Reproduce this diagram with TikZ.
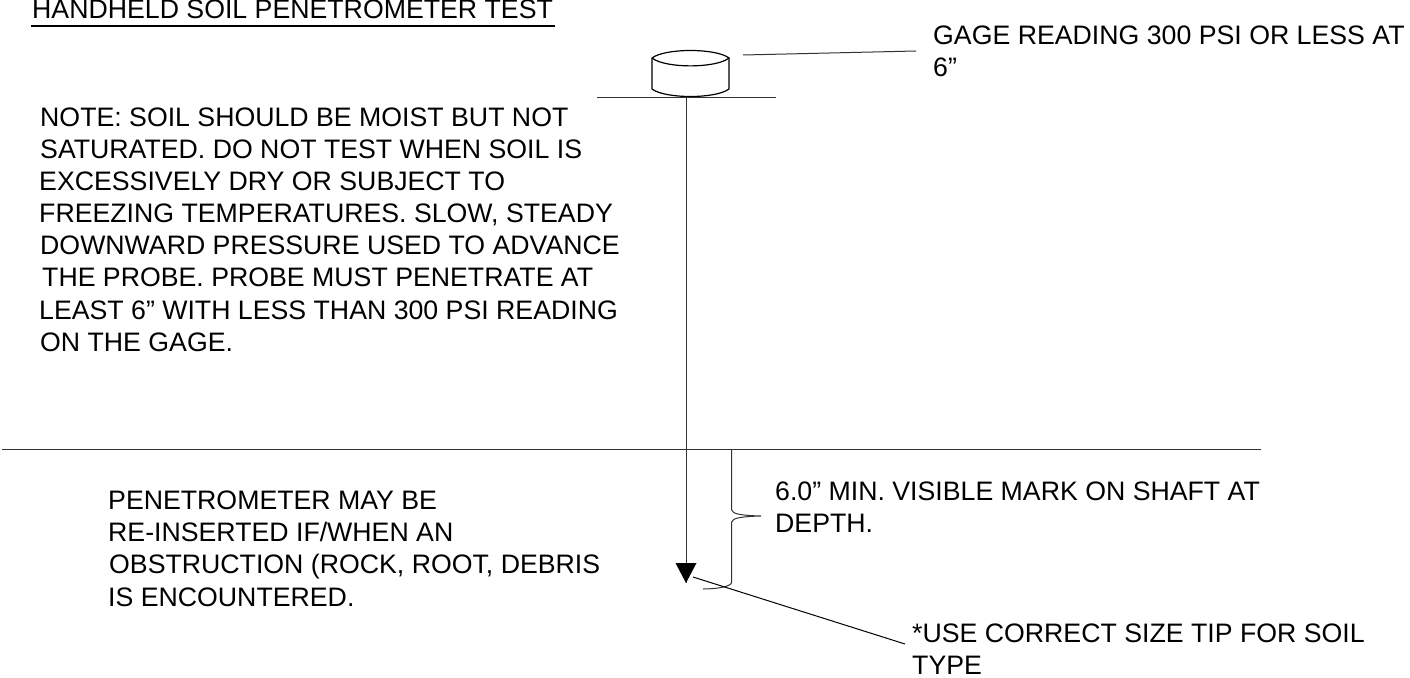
\documentclass[tikz,border=0pt]{standalone}
\usepackage{fontspec}
\setmainfont{Liberation Sans}
\begin{document}
\begin{tikzpicture}[x=1pt,y=-1pt,
  txt/.style={anchor=base west,inner sep=0pt,font=\fontsize{26.7pt}{32pt}\selectfont},
  ln/.style={line width=1pt,draw=black!80}]
\useasboundingbox (0,0) rectangle (1410,677);
\node[txt] (title) at (32,18.5) {HANDHELD SOIL PENETROMETER TEST};
\coordinate (ua) at (30.5,26); \coordinate (ub) at (555,26);
\draw[line width=1.3pt] (ua) -- (ub);
\node[txt] (g1) at (933,45) {GAGE READING 300 PSI OR LESS AT};
\node[txt] (g2) at (933,76.5) {6”};
\node[txt] (n1) at (40,126.5) {NOTE: SOIL SHOULD BE MOIST BUT NOT};
\node[txt] (n2) at (40,158.5) {SATURATED. DO NOT TEST WHEN SOIL IS};
\node[txt] (n3) at (39,190.5) {EXCESSIVELY DRY OR SUBJECT TO};
\node[txt] (n4) at (39,222.5) {FREEZING TEMPERATURES. SLOW, STEADY};
\node[txt] (n5) at (40,254.5) {DOWNWARD PRESSURE USED TO ADVANCE};
\node[txt] (n6) at (42,286.5) {THE PROBE. PROBE MUST PENETRATE AT};
\node[txt] (n7) at (39,319) {LEAST 6” WITH LESS THAN 300 PSI READING};
\node[txt] (n8) at (40,351.5) {ON THE GAGE.};
\node[txt] (p1) at (108,509) {PENETROMETER MAY BE};
\node[txt] (p2) at (108,541.5) {RE-INSERTED IF/WHEN AN};
\node[txt] (p3) at (109,573.5) {OBSTRUCTION (ROCK, ROOT, DEBRIS};
\node[txt] (p4) at (108,606) {IS ENCOUNTERED.};
\node[txt] (d1) at (775,500) {6.0” MIN. VISIBLE MARK ON SHAFT AT};
\node[txt] (d2) at (775,532.5) {DEPTH.};
\node[txt] (u1) at (912,642) {*USE CORRECT SIZE TIP FOR SOIL};
\node[txt] (u2) at (912,674) {TYPE};
% gage
\coordinate (top) at (686,97);
\coordinate (tip) at (686,583);
\draw[line width=1.2pt] (652,58) .. controls (665,48) and (716,48) .. (729,58)
  .. controls (716,68.5) and (665,68.5) .. (652,58);
\draw[line width=1.2pt] (652,58) -- (652,89) .. controls (665,99) and (716,99) .. (729,89) -- (729,58);
\coordinate (gl) at (597,97); \coordinate (gr) at (776,97);
\draw[ln] (gl) -- (gr);
\coordinate (la) at (743,55); \coordinate (lb) at (916,51);
\draw[ln] (la) -- (lb);
% shaft
\draw[ln] (top) -- (tip);
\coordinate (a1) at (675.5,563); \coordinate (a2) at (696.5,563);
\fill (a1) -- (a2) -- (tip) -- cycle;
% ground
\coordinate (ga) at (2,449); \coordinate (gb) at (1261,449);
\draw[ln] (ga) -- (gb);
% brace
\coordinate (bt) at (731.7,449); \coordinate (bm) at (761,516); \coordinate (bb) at (703,589);
\draw[ln] (bt) -- (731.7,510) .. controls (732,514) and (742,515.5) .. (bm)
  .. controls (742,516.5) and (732,518) .. (731.7,522) -- (731.7,582)
  .. controls (731.7,587) and (715,589) .. (bb);
% tip leader
\coordinate (ta) at (693,577); \coordinate (tb) at (905,644);
\draw[line width=1pt] (ta) -- (tb);
\end{tikzpicture}
\end{document}
